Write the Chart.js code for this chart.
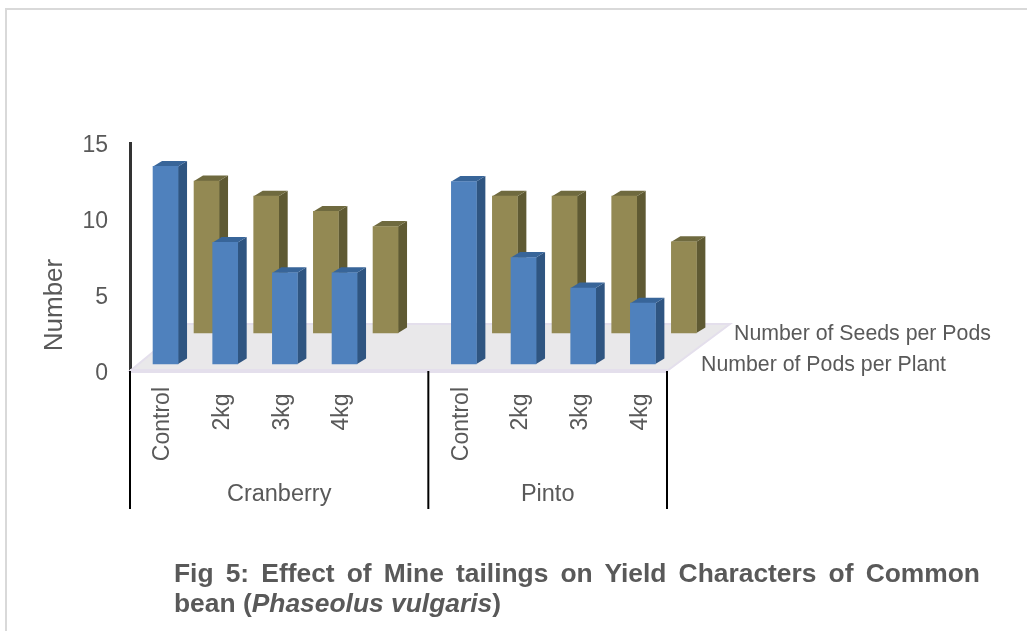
<!DOCTYPE html>
<html>
<head>
<meta charset="utf-8">
<title>Fig 5</title>
<script src="https://cdn.jsdelivr.net/npm/chart.js@4"></script>
<style>
    html, body { margin: 0; padding: 0; background: #fff; overflow: hidden; }
    #frame {
        position: absolute; left: 5px; top: 8px; width: 1022px; height: 623px;
        border-left: 2px solid #d9d9d9; border-top: 2px solid #d9d9d9; box-sizing: border-box;
    }
    #plot { position: absolute; left: 0; top: 0; }
    #caption {
        position: absolute; left: 174px; top: 558px; width: 806px;
        font: bold 26.4px/30px "Liberation Sans", Arial, sans-serif;
        color: #595959; text-align: justify;
    }
</style>
</head>
<body>
<div id="frame"></div>
<canvas id="plot" width="1027" height="631"></canvas>
<div id="caption">Fig 5: Effect of Mine tailings on Yield Characters of Common bean (<i>Phaseolus vulgaris</i>)</div>
<script>
const categories   = ["Control", "2kg", "3kg", "4kg", "", "Control", "2kg", "3kg", "4kg"];
const podsPerPlant = [13, 8, 6, 6, null, 12, 7, 5, 4];
const seedsPerPods = [10, 9, 8, 7, null, 9, 9, 9, 6];
const groupNames   = ["Cranberry", "Pinto"];
const groupSizes   = [5, 4];
const seriesNames  = ["Number of Pods per Plant", "Number of Seeds per Pods"];
const yAxisTitle   = "Number";

const FONT = '"Liberation Sans", Arial, sans-serif';
const TEXT = "#595959";

// depth = where a series sits on the fake 3D floor, labelX = its series name
const looks = [
    { front: "#4f81bd", side: "#2f5581", top: "#386599", depth: [5.7, -7],   labelX: 701, labelY: 365 },
    { front: "#938953", side: "#5f5a33", top: "#6f6a3f", depth: [46.7, -38], labelX: 734, labelY: 334 }
];

const barSide = { dx: 9, dy: -5.5 };

const floor3d = {
    id: "floor3d",
    beforeDatasetsDraw(chart) {
        const { ctx, scales: { x, y } } = chart;
        const left = x.getPixelForValue(-0.5), right = x.getPixelForValue(8.5), base = y.getPixelForValue(0);
        ctx.save();
        ctx.beginPath();
        ctx.moveTo(left, base);
        ctx.lineTo(left + 57, base - 47);
        ctx.lineTo(right + 63, base - 47);
        ctx.lineTo(right, base);
        ctx.closePath();
        ctx.fillStyle = "#e9e8ea";
        ctx.fill();
        ctx.strokeStyle = "#e4dfec";
        ctx.lineWidth = 2;
        ctx.stroke();
        ctx.lineWidth = 4;
        ctx.beginPath();
        ctx.moveTo(left, base);
        ctx.lineTo(right, base);
        ctx.stroke();
        ctx.restore();
    }
};

const bars3d = {
    id: "bars3d",
    beforeDatasetDraw(chart, args) {
        const { ctx } = chart;
        const look = looks[args.index];
        const values = chart.data.datasets[args.index].data;
        ctx.save();
        ctx.translate(look.depth[0], look.depth[1]);
        args.meta.data.forEach(function (bar, i) {
            if (values[i] === null) return;
            const l = bar.x - bar.width / 2, r = bar.x + bar.width / 2;
            ctx.fillStyle = look.side;
            ctx.beginPath();
            ctx.moveTo(r, bar.y);
            ctx.lineTo(r + barSide.dx, bar.y + barSide.dy);
            ctx.lineTo(r + barSide.dx, bar.base + barSide.dy);
            ctx.lineTo(r, bar.base);
            ctx.closePath();
            ctx.fill();
            ctx.fillStyle = look.top;
            ctx.beginPath();
            ctx.moveTo(l, bar.y);
            ctx.lineTo(l + barSide.dx, bar.y + barSide.dy);
            ctx.lineTo(r + barSide.dx, bar.y + barSide.dy);
            ctx.lineTo(r, bar.y);
            ctx.closePath();
            ctx.fill();
        });
    },
    afterDatasetDraw(chart) {
        chart.ctx.restore();
    }
};

const groupAxis = {
    id: "groupAxis",
    afterDraw(chart) {
        const { ctx, scales: { x, y } } = chart;
        const top = y.getPixelForValue(0);
        ctx.save();
        ctx.strokeStyle = "#000";
        ctx.lineWidth = 2;
        ctx.fillStyle = TEXT;
        ctx.textAlign = "center";
        ctx.textBaseline = "middle";
        ctx.font = "23.5px " + FONT;
        let at = -0.5;
        [0].concat(groupSizes).forEach(function (n, i) {
            at += n;
            const px = x.getPixelForValue(at);
            ctx.beginPath();
            ctx.moveTo(px, top);
            ctx.lineTo(px, 509);
            ctx.stroke();
            if (i < groupNames.length) {
                const mid = x.getPixelForValue(at + groupSizes[i] / 2);
                ctx.fillText(groupNames[i], mid, 495);
            }
        });
        ctx.textAlign = "left";
        ctx.font = "21.3px " + FONT;
        seriesNames.forEach(function (name, i) {
            ctx.fillText(name, looks[i].labelX, looks[i].labelY);
        });
        // the title sits low on this axis, not centred on it
        ctx.translate(62, 305);
        ctx.rotate(-Math.PI / 2);
        ctx.textAlign = "center";
        ctx.textBaseline = "alphabetic";
        ctx.font = "26px " + FONT;
        ctx.fillText(yAxisTitle, 0, 0);
        ctx.restore();
    }
};

new Chart(document.getElementById("plot"), {
    type: "bar",
    data: {
        labels: categories,
        datasets: [
            { label: seriesNames[0], data: podsPerPlant, backgroundColor: looks[0].front, clip: false },
            { label: seriesNames[1], data: seedsPerPods, backgroundColor: looks[1].front, clip: false }
        ]
    },
    options: {
        responsive: false,
        animation: false,
        layout: { padding: { left: 38, top: 143, right: 360, bottom: 0 } },
        datasets: { bar: { grouped: false, barThickness: 25 } },
        plugins: { legend: { display: false }, tooltip: { enabled: false } },
        scales: {
            x: {
                grid: { display: false, drawTicks: false },
                border: { display: false },
                afterFit(scale) { scale.height = 260; },
                ticks: {
                    autoSkip: false, minRotation: 90, maxRotation: 90, padding: 16, labelOffset: 3,
                    color: TEXT, font: { family: FONT, size: 23 },
                    // short labels start a little lower than Control in the original
                    callback(v) {
                        const s = this.getLabelForValue(v);
                        return s === "Control" ? s : s + " ";
                    }
                }
            },
            y: {
                min: 0,
                max: 15,
                afterFit(scale) { scale.width = 92; },
                grid: { display: false, drawTicks: false },
                border: { color: "#333", width: 3 },
                ticks: {
                    stepSize: 5, padding: 22, labelOffset: 2.5,
                    color: TEXT, font: { family: FONT, size: 23 }
                }
            }
        }
    },
    plugins: [floor3d, bars3d, groupAxis]
});
</script>
</body>
</html>
